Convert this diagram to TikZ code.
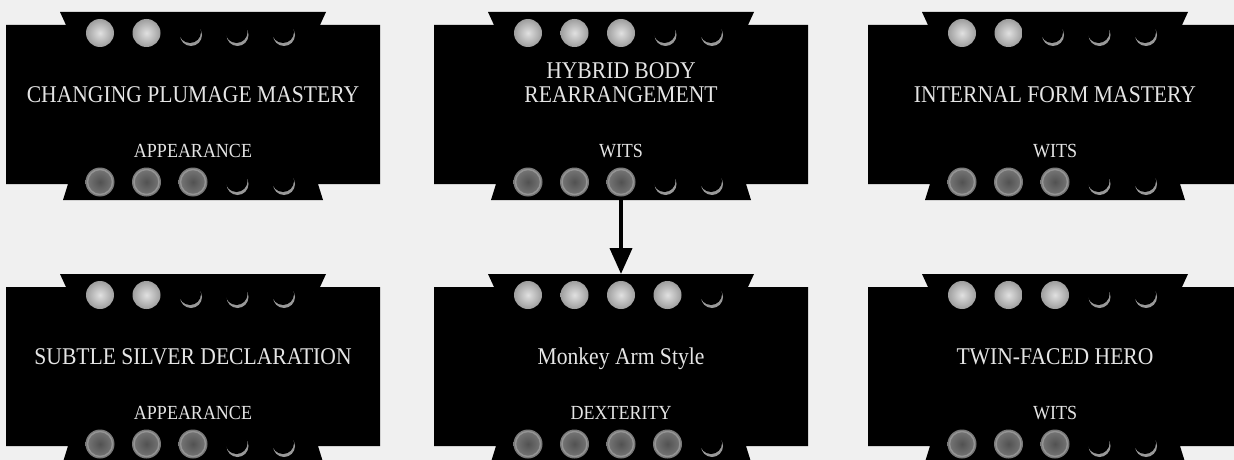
\documentclass[tikz,border=0pt]{standalone}
\usepackage{fontspec}
\setmainfont{Liberation Serif}
\newfontfamily\cardfont[FakeStretch=0.9]{Liberation Serif}
\usetikzlibrary{arrows.meta, calc}

\definecolor{paper}{gray}{0.94}
\definecolor{cardtext}{gray}{0.9}

\tikzset{
  card/.style={fill=black},
  pipfull/.style={inner color=black!12, outer color=black!38},
  pipdim/.style={inner color=black!68, outer color=black!52},
  piprim/.style={draw=black!42, line width=1.4pt},
  pipempty/.style={fill=black!40},
  cardtitle/.style={text=cardtext, font=\cardfont\fontsize{24}{24}\selectfont, align=center, anchor=base},
  cardattr/.style={text=cardtext, font=\cardfont\fontsize{20}{20}\selectfont, anchor=base},
  link/.style={line width=4pt, -{Triangle[length=26pt,width=22pt]}},
}

% #1 name, #2 centre x, #3 top of body, #4 title, #5 attribute, #6/#7 dots top/bottom
\newcommand{\skillcard}[7]{
  \fill[card] (#2-133,#3-13) -- (#2+133,#3-13) -- (#2+127,#3) -- (#2+187,#3) -- (#2+187,#3+159)
    -- (#2+125,#3+159) -- (#2+130,#3+175) -- (#2-130,#3+175) -- (#2-125,#3+159)
    -- (#2-187,#3+159) -- (#2-187,#3) -- (#2-127,#3) -- cycle;
  \coordinate (#1-top) at (#2,#3-13);
  \coordinate (#1-bot) at (#2,#3+175);
  \foreach \i in {1,...,5}{
    \pgfmathsetmacro{\px}{#2+(\i-3)*46.5}
    \ifnum\i>#6\relax
      \fill[pipempty] (\px-2,#3+10) circle (11);
      \fill[card] (\px-3,#3+7) circle (11);
    \else
      \shade[pipfull] (\px,#3+8) circle (14);
    \fi
    \ifnum\i>#7\relax
      \fill[pipempty] (\px-2,#3+159) circle (11);
      \fill[card] (\px-3,#3+156) circle (11);
    \else
      \shade[pipdim] (\px,#3+157) circle (14.5);
      \draw[piprim] (\px,#3+157) circle (12.5);
    \fi
  }
  \node[cardtitle] (#1) at (#2,#3+77) {#4};
  \node[cardattr] (#1-attr) at (#2,#3+132) {#5};
}

\begin{document}
\begin{tikzpicture}[x=1pt, y=-1pt]
  \fill[paper] (0,0) rectangle (1234,460);
  \useasboundingbox (0,0) rectangle (1234,460);
  \clip (0,0) rectangle (1234,460);
  \skillcard{plumage}{193}{25}{CHANGING PLUMAGE MASTERY}{APPEARANCE}{2}{3}
  \skillcard{hybrid}{621}{25}{HYBRID BODY\\REARRANGEMENT}{WITS}{3}{3}
  \skillcard{internal}{1055}{25}{INTERNAL FORM MASTERY}{WITS}{2}{3}
  \skillcard{silver}{193}{287}{SUBTLE SILVER DECLARATION}{APPEARANCE}{2}{3}
  \skillcard{monkey}{621}{287}{Monkey Arm Style}{DEXTERITY}{4}{4}
  \skillcard{twin}{1055}{287}{TWIN-FACED HERO}{WITS}{3}{3}
  \draw[link] (hybrid-bot) -- (monkey-top);
\end{tikzpicture}
\end{document}
